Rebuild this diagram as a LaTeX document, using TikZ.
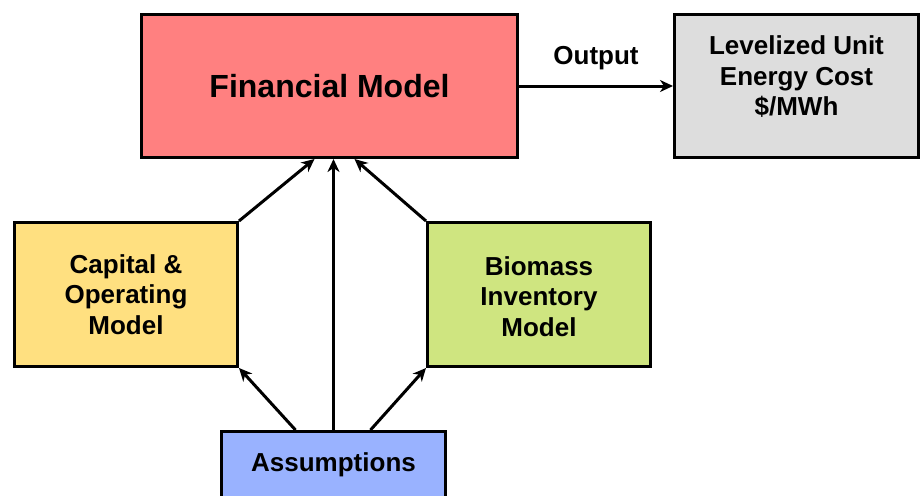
\documentclass[tikz,border=0pt]{standalone}
\usepackage{fontspec}
\setmainfont{Liberation Sans}
\usetikzlibrary{arrows.meta,calc}
\definecolor{finred}{RGB}{255,128,128}
\definecolor{levgray}{RGB}{221,221,221}
\definecolor{capyellow}{RGB}{255,224,128}
\definecolor{biogreen}{RGB}{207,229,128}
\definecolor{assblue}{RGB}{153,178,255}
\newcommand\lblfont{\fontsize{26}{30.5}\selectfont\bfseries}
\newcommand\bigfont{\fontsize{32}{36}\selectfont\bfseries}
\begin{document}
\begin{tikzpicture}[x=1pt,y=-1pt,
  box/.style={draw=black,line width=3pt,inner sep=0pt,align=center,font=\lblfont},
  conn/.style={line width=3pt,-{Stealth[length=13pt,width=12pt,inset=4pt]}}]
\useasboundingbox (0,0) rectangle (923,495);
\node[box,fill=finred,minimum width=376pt,minimum height=143pt,font=\bigfont] (fin) at (329.5,86) {Financial Model};
\node[box,fill=levgray,minimum width=244pt,minimum height=143pt,
  label={[font=\lblfont,align=center,yshift=9pt]center:Levelized Unit\\Energy Cost\\\$/MWh}] (lev) at (796.5,86) {};
\node[box,fill=capyellow,minimum width=223pt,minimum height=144pt] (cap) at (126,294.5) {Capital \&\\Operating\\Model};
\node[box,fill=biogreen,minimum width=223pt,minimum height=144pt,
  label={[font=\lblfont,align=center,yshift=-2pt]center:Biomass\\Inventory\\Model}] (bio) at (539,294.5) {};
\node[box,fill=assblue,minimum width=224pt,minimum height=74pt,
  label={[font=\lblfont,yshift=4pt]center:Assumptions}] (ass) at (333.5,468.5) {};
\draw[conn] (fin.east) -- (lev.west) node[midway,anchor=base,yshift=21.5pt,font=\lblfont] (outlbl) {Output};
\draw[conn] (cap.north east) -- ($(ass.north |- fin.south)+(-19,0)$);
\draw[conn] (ass.north) -- (ass.north |- fin.south);
\draw[conn] (bio.north west) -- ($(ass.north |- fin.south)+(21,0)$);
\draw[conn] ($(ass.north)+(-38,0)$) -- (cap.south east);
\draw[conn] ($(ass.north)+(37,0)$) -- (bio.south west);
\end{tikzpicture}
\end{document}
